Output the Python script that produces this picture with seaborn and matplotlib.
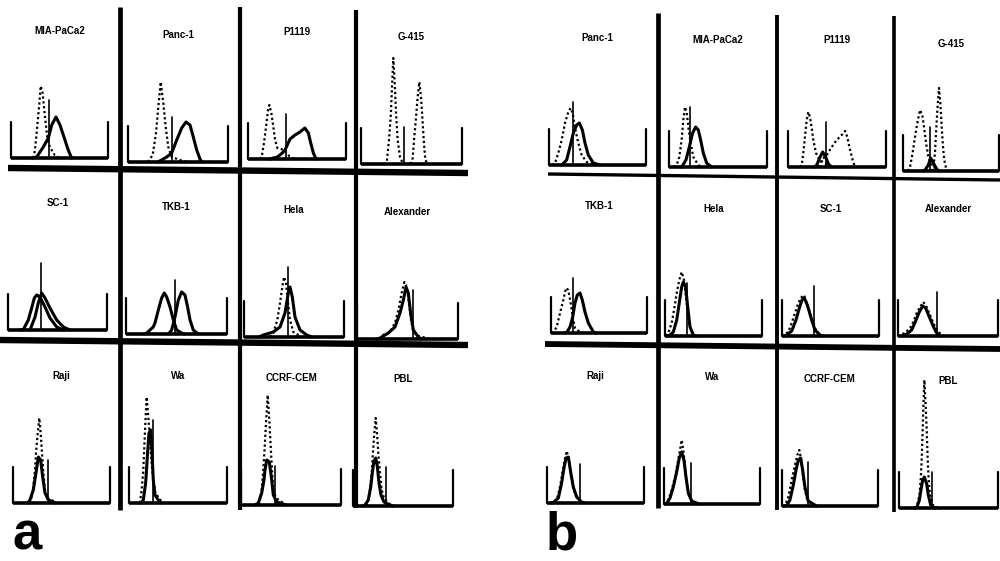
import matplotlib
matplotlib.use("Agg")
import matplotlib.pyplot as plt
import seaborn as sns

# ---- data: histogram curves as (channel, count) pairs ----
# panel a
A_MIA_DOT = [(23, 0), (24.7, 8), (27, 31), (28.9, 51), (30.6, 72), (32.6, 65), (34, 51), (35.7, 35),
             (37.4, 21), (40, 11), (45, 3), (50, 0)]
A_MIA_SOL = [(22, 0), (26.5, 1), (33.3, 11), (38.5, 20), (42, 33), (44.7, 38), (46.4, 41), (50.5, 33),
             (54.6, 21), (59, 8), (62.5, 0)]
A_PANC_DOT = [(20, 0), (24.7, 7), (28, 29), (30.3, 55), (32.7, 80), (35.3, 59), (37.7, 35), (40.3, 15),
              (43.7, 5), (52, 2), (58.7, 0)]
A_PANC_SOL = [(30, 0), (38.7, 5), (43.7, 9), (48.7, 22), (53.7, 34), (58, 40), (62, 37), (65.3, 25),
              (68.7, 12), (72, 3), (74, 0)]
A_P1119_DOT = [(12, 0), (14, 2), (16.3, 16), (18.4, 32), (20.4, 49), (21.8, 54), (23.8, 46), (25.9, 32),
               (27.6, 19), (30, 11), (34, 10), (37.8, 8), (42, 3), (47, 0)]
A_P1119_SOL = [(22, 0), (30, 2), (35, 6), (37.8, 9), (42.9, 20), (48, 24), (53, 27), (58, 31), (61.6, 26),
               (64, 16), (66.7, 6), (69.4, 0)]
A_G415_DOT1 = [(23, 0), (25.4, 1), (27.7, 24), (29.4, 47), (30.7, 77), (32, 106), (33.4, 81), (34.7, 51),
               (36.3, 24), (38.6, 7), (41.3, 1), (43, 0)]
A_G415_DOT2 = [(49, 0), (51, 4), (52.5, 24), (54.5, 47), (56.1, 67), (57.8, 82), (59.4, 67), (60.7, 47),
               (62.1, 24), (63.7, 4), (66, 0)]
A_SC1_SOL1 = [(12, 0), (15.5, 0.5), (20.5, 10), (23.9, 22), (26.6, 32), (29, 35), (32.3, 33), (37.4, 23),
              (42.4, 12), (49.2, 3), (55.9, 0)]
A_SC1_SOL2 = [(22.2, 0), (27.3, 13), (30.6, 27), (34, 37), (37.4, 32), (42.4, 22), (49.2, 10), (55.9, 3),
              (62.6, 0)]
A_TKB_SOL1 = [(18, 0), (20.5, 1), (27, 7), (28.7, 11), (32, 24), (35.3, 36), (37.9, 41), (40.3, 37),
              (43.6, 27), (46.9, 14), (50.2, 4), (55, 1), (58, 0)]
A_TKB_SOL2 = [(42, 0), (45.2, 4), (48.5, 17), (51.8, 34), (55.1, 42), (58.4, 39), (61, 27), (63.4, 14),
              (66.6, 4), (71.6, 0)]
A_HELA_DOT = [(26, 0), (29.3, 4), (33.3, 17), (36, 34), (38.3, 50), (40, 60), (42, 54), (43.7, 37),
              (46, 17), (49.3, 5), (54.3, 2), (58, 0)]
A_HELA_SOL = [(15, 0), (19.3, 2), (29.3, 5), (36, 10), (41, 24), (44.3, 44), (46, 50), (48.3, 40),
              (51, 20), (56, 7), (62.7, 2), (68, 0)]
A_ALEX_DOT = [(22, 0), (26, 4), (32.7, 7), (37.6, 16), (41, 29), (44.2, 46), (46.9, 57), (49.2, 52),
              (51.5, 36), (53.5, 19), (55.8, 7), (60.7, 3), (69, 1), (72, 0)]
A_ALEX_SOL = [(20, 0), (22.8, 1), (31, 6), (37.6, 12), (42.6, 26), (45.9, 39), (48.5, 52), (50.8, 46),
              (53.1, 26), (55.8, 9), (60.7, 2), (64, 0)]
A_RAJI_DOT = [(17, 0), (19.2, 6), (20.9, 16), (22.7, 33), (23.7, 50), (25.1, 66), (27.1, 85), (28.5, 70),
              (29.9, 50), (31.3, 30), (33, 13), (35.4, 5), (41.6, 2), (45, 0)]
A_RAJI_SOL = [(15, 0), (17.5, 3), (20.9, 13), (23.7, 30), (26.1, 46), (28.5, 43), (30.6, 26), (33, 10),
              (36.4, 3), (41.6, 1), (44, 0)]
A_WA_DOT = [(11, 0), (12.9, 13), (14.6, 33), (15.6, 56), (16.7, 80), (18, 106), (19.7, 86), (21.4, 63),
            (23.1, 40), (24.8, 23), (26.9, 10), (30.6, 5), (34, 0)]
A_WA_SOL = [(12, 0), (14.6, 3), (17, 20), (18.7, 46), (20.4, 70), (22.1, 73), (23.5, 50), (24.8, 23),
            (26.5, 8), (29.9, 3), (33, 0)]
A_CCRF_DOT = [(18, 0), (20.7, 15), (22.3, 35), (23.7, 58), (25, 82), (26.7, 110), (28.3, 85), (29.7, 58),
              (31, 35), (32.3, 15), (35, 7), (40.7, 3), (44, 0)]
A_CCRF_SOL = [(14, 0), (17.3, 2), (20.7, 12), (23, 25), (24, 35), (25.7, 45), (28.3, 43), (30.7, 25),
              (32.3, 10), (35.7, 3), (42.3, 1), (45, 0)]
A_PBL_DOT = [(14, 0), (17, 16), (18.7, 33), (19.7, 49), (21, 69), (22.7, 88), (24, 73), (25.3, 53),
             (27, 33), (28.7, 16), (31, 8), (35.3, 3), (39, 0)]
A_PBL_SOL = [(10, 0), (12, 1), (15.3, 6), (17.7, 19), (19.3, 33), (21, 45), (22.7, 48), (24.3, 40),
             (26, 23), (28, 11), (31, 4), (37, 1), (40, 0)]

# panel b
B_PANC_DOT = [(3, 0), (6.2, 2), (9.6, 12), (13.1, 25), (16.5, 42), (19.9, 53), (22.3, 57), (24.4, 52),
              (26.8, 37), (30.2, 22), (33.7, 10), (38.8, 3), (45.7, 1), (48, 0)]
B_PANC_SOL = [(13.1, 0), (18.2, 5), (21.6, 18), (25.1, 32), (28.5, 40), (31.3, 42), (34.4, 35), (37.1, 22),
              (40.5, 10), (45.7, 2), (52.6, 0)]
B_MIA_DOT = [(5, 0), (7.8, 2), (10.5, 10), (12.9, 27), (14.6, 47), (16.3, 60), (18, 55), (19.7, 40),
             (22.1, 24), (24.8, 10), (29.9, 2), (33, 0)]
B_MIA_SOL = [(12.9, 0), (17.3, 7), (20.7, 20), (24.1, 34), (27.2, 40), (29.9, 37), (32.3, 27), (35, 14),
             (38.4, 4), (43.5, 0)]
B_P1119_DOT1 = [(12, 0), (14, 2), (15.6, 14), (17.3, 30), (19.1, 47), (20.7, 55), (22.4, 50), (24.2, 39),
                (25.8, 27), (28.6, 14), (32, 7), (37.8, 4), (42.9, 1), (46, 0)]
B_P1119_DOT2 = [(31, 0), (34.4, 7), (39.5, 12), (44.6, 20), (49.7, 27), (54.8, 32), (58.2, 36), (60.5, 30),
                (63.3, 17), (66, 7), (68.4, 0)]
B_P1119_SOL = [(27, 0), (29.3, 2), (32.7, 10), (35.4, 15), (38.4, 10), (41.2, 3), (44.6, 0)]
B_G415_DOT1 = [(5, 0), (7.3, 4), (10, 18), (12.5, 34), (14.9, 48), (17.7, 61), (20.1, 56), (21.9, 44),
               (24, 28), (26.4, 14), (29.9, 5), (35.1, 2), (38, 0)]
B_G415_DOT2 = [(30, 0), (31.6, 3), (33.3, 18), (34.4, 38), (35.8, 61), (37.5, 83), (38.9, 68), (40.3, 44),
               (41.7, 24), (43, 11), (44.8, 3), (47, 0)]
B_G415_SOL = [(21, 0), (23, 1), (26.4, 6), (28.8, 13), (31.6, 8), (35.1, 2), (37, 0)]
B_TKB_DOT = [(1, 0), (2.4, 0.5), (5.9, 6), (9.4, 20), (12.8, 33), (15.6, 45), (18, 43), (20.5, 30),
             (22.6, 16), (25, 5), (30.2, 1), (33, 0)]
B_TKB_SOL = [(14, 0), (16.3, 0.5), (19.8, 6), (22.6, 16), (25, 30), (27.4, 38), (30.2, 40), (32.6, 33),
             (35.4, 21), (38.9, 10), (44.1, 1), (47, 0)]
B_HELA_DOT = [(1, 0), (3.4, 3), (6.9, 13), (9.3, 26), (12.1, 43), (14.7, 56), (17.2, 64), (19.6, 56),
              (21.6, 39), (23.4, 23), (25.8, 9), (29.2, 2), (32, 0)]
B_HELA_SOL = [(3, 0), (5.2, 1), (8.6, 4), (12.1, 16), (14.7, 33), (17.2, 49), (18.9, 54), (21.3, 49),
              (23.4, 29), (25.8, 9), (29.2, 1), (32, 0)]
B_SC1_DOT = [(0, 0), (1.4, 1), (6.5, 4), (10, 13), (13.4, 23), (16.8, 33), (20.3, 39), (22.7, 41),
             (25.5, 33), (28.9, 23), (32.3, 13), (35.8, 4), (40.9, 1), (44, 0)]
B_SC1_SOL = [(2, 0), (4.8, 1), (10, 5), (14.4, 16), (17.9, 28), (20.6, 36), (23, 38), (26.1, 31),
             (30.6, 16), (34, 6), (39.2, 1), (42, 0)]
B_ALEX_DOT = [(0, 0), (2, 1), (7, 3), (12, 8), (15.3, 14), (18.7, 23), (22, 29), (25.3, 34), (28.7, 29),
              (32, 21), (35.3, 13), (38.7, 6), (43.7, 1), (46, 0)]
B_ALEX_SOL = [(5, 0), (8.7, 2), (13.7, 6), (18, 16), (21.3, 24), (24.7, 30), (27.7, 28), (31.3, 19),
              (34.7, 11), (38, 4), (42, 0)]
B_RAJI_DOT = [(3, 0), (4.8, 0.5), (10, 3), (13.4, 16), (15.8, 30), (18.2, 43), (20.3, 52), (22.7, 43),
              (25.1, 26), (27.8, 13), (31.3, 5), (37.5, 1), (40, 0)]
B_RAJI_SOL = [(5, 0), (6.5, 0.5), (11.7, 5), (15.1, 20), (17.5, 35), (19.6, 45), (22, 46), (24.4, 31),
              (27.1, 16), (30.6, 6), (35.7, 1), (38, 0)]
B_WA_DOT = [(0, 0), (1, 0.5), (4.5, 4), (8, 14), (11.5, 27), (14.2, 41), (16.7, 54), (18.4, 64), (20.1, 54),
            (21.9, 37), (23.6, 21), (26.4, 7), (30.6, 2), (33, 0)]
B_WA_SOL = [(1, 0), (2.8, 0.5), (6.3, 6), (9.7, 17), (13.2, 32), (15.9, 46), (18.4, 52), (20.8, 44),
            (22.9, 27), (25.3, 11), (28.8, 3), (34, 1), (36, 0)]
B_CCRF_DOT = [(1, 0), (3.1, 0.5), (6.6, 9), (10.1, 26), (13.5, 41), (16, 51), (18, 56), (20.1, 46),
              (21.5, 33), (23.3, 19), (25.7, 8), (30.9, 2), (33, 0)]
B_CCRF_SOL = [(3, 0), (4.9, 0.5), (8.3, 6), (11.8, 21), (14.6, 36), (17, 46), (19.4, 48), (21.5, 36),
              (23.9, 19), (27.3, 5), (34.2, 1), (36, 0)]
B_PBL_DOT = [(16, 0), (18, 1), (20.6, 13), (21.9, 28), (22.9, 48), (23.9, 78), (24.6, 101), (25.6, 128),
             (27, 101), (28, 78), (29, 48), (30, 28), (31.3, 13), (34, 3), (38, 1), (40, 0)]
B_PBL_SOL = [(16, 0), (18, 0.5), (20.6, 8), (22.2, 18), (23.9, 28), (25.6, 31), (28, 24), (29.6, 13),
             (32, 3), (36.4, 0)]

TITLES_A = ["MIA-PaCa2", "Panc-1", "P1119", "G-415", "SC-1", "TKB-1", "Hela", "Alexander",
            "Raji", "Wa", "CCRF-CEM", "PBL"]
TITLES_B = ["Panc-1", "MIA-PaCa2", "P1119", "G-415", "TKB-1", "Hela", "SC-1", "Alexander",
            "Raji", "Wa", "CCRF-CEM", "PBL"]

# gate marker (channel, height) per histogram
MARKERS_A = [(39, 58), (43.7, 45), (38.8, 45), (42.9, 37), (33.3, 67), (48.5, 54), (44, 70), (55.4, 49),
             (36, 43), (24.5, 83), (34, 39), (33, 39)]
MARKERS_B = [(24.7, 63), (21.4, 60), (38.8, 45), (28, 44), (22.9, 55), (22.3, 53), (33, 50), (39, 44),
             (34, 39), (28, 41), (27, 44), (33.3, 36)]

CURVES_A = [
    [(A_MIA_SOL, "solid"), (A_MIA_DOT, "dot")],
    [(A_PANC_SOL, "solid"), (A_PANC_DOT, "dot")],
    [(A_P1119_SOL, "solid"), (A_P1119_DOT, "dot")],
    [(A_G415_DOT1, "dot"), (A_G415_DOT2, "dot")],
    [(A_SC1_SOL1, "solid"), (A_SC1_SOL2, "solid")],
    [(A_TKB_SOL1, "solid"), (A_TKB_SOL2, "solid")],
    [(A_HELA_SOL, "solid"), (A_HELA_DOT, "dot")],
    [(A_ALEX_SOL, "solid"), (A_ALEX_DOT, "dot")],
    [(A_RAJI_SOL, "solid"), (A_RAJI_DOT, "dot")],
    [(A_WA_SOL, "solid"), (A_WA_DOT, "dot")],
    [(A_CCRF_SOL, "solid"), (A_CCRF_DOT, "dot")],
    [(A_PBL_SOL, "solid"), (A_PBL_DOT, "dot")],
]
CURVES_B = [
    [(B_PANC_SOL, "solid"), (B_PANC_DOT, "dot")],
    [(B_MIA_SOL, "solid"), (B_MIA_DOT, "dot")],
    [(B_P1119_SOL, "solid"), (B_P1119_DOT1, "dot"), (B_P1119_DOT2, "dot")],
    [(B_G415_SOL, "solid"), (B_G415_DOT1, "dot"), (B_G415_DOT2, "dot")],
    [(B_TKB_SOL, "solid"), (B_TKB_DOT, "dot")],
    [(B_HELA_SOL, "solid"), (B_HELA_DOT, "dot")],
    [(B_SC1_SOL, "solid"), (B_SC1_DOT, "dot")],
    [(B_ALEX_SOL, "solid"), (B_ALEX_DOT, "dot")],
    [(B_RAJI_SOL, "solid"), (B_RAJI_DOT, "dot")],
    [(B_WA_SOL, "solid"), (B_WA_DOT, "dot")],
    [(B_CCRF_SOL, "solid"), (B_CCRF_DOT, "dot")],
    [(B_PBL_SOL, "solid"), (B_PBL_DOT, "dot")],
]

# ---- layout (pixels): left tick x, right tick x, baseline y for each histogram ----
W, H = 1000, 561
BOXES_A = [(11, 108, 158), (128, 228, 162), (248, 346, 159), (361, 462, 164),
           (8, 107, 330), (126, 227, 334), (244, 344, 337), (357, 458, 339),
           (13, 110, 503), (129, 227, 503), (241, 341, 505), (353, 453, 506)]
BOXES_B = [(549, 646, 165), (669, 767, 167), (788, 886, 167), (903, 999, 171),
           (551, 647, 333), (665, 762, 336), (782, 879, 336), (898, 998, 336),
           (547, 644, 503), (664, 760, 504), (782, 878, 506), (899, 998, 508)]
TICK_H = 36
TITLE_H = 127

STYLES = {
    "solid": dict(lw=2.2, linestyle="-"),
    "dot": dict(lw=1.6, linestyle=(0, (1, 1.2))),
}

sns.set_style("white")
plt.rcParams['font.family'] = ['Liberation Sans', 'DejaVu Sans']
plt.rcParams['text.color'] = 'black'

fig = plt.figure(figsize=(W / 100, H / 100), dpi=100)


def draw_cell(box, title, curves, marker):
    left, right, base = box
    pad, top, bot = 6, 140, 8
    span = right - left
    ax = fig.add_axes([(left - pad) / W, 1 - (base + bot) / H,
                       (span + 2 * pad) / W, (top + bot) / H])
    ax.set_xlim(-pad / span * 100, 100 + pad / span * 100)
    ax.set_ylim(-bot, top)
    ax.axis('off')

    ax.plot([0, 100], [0, 0], color='black', lw=2.6, solid_capstyle='butt')
    for xe in (0, 100):
        ax.plot([xe, xe], [0, TICK_H], color='black', lw=1.6)
    ax.plot([marker[0], marker[0]], [0, marker[1]], color='black', lw=1.2)

    for pts, kind in curves:
        xs = [p[0] for p in pts]
        ys = [p[1] for p in pts]
        sns.lineplot(x=xs, y=ys, ax=ax, color='black', estimator=None, **STYLES[kind])

    ax.text(50, TITLE_H, title, ha='center', va='center', fontsize=7, fontweight='bold',
            color='black')


for i in range(12):
    draw_cell(BOXES_A[i], TITLES_A[i], CURVES_A[i], MARKERS_A[i])
    draw_cell(BOXES_B[i], TITLES_B[i], CURVES_B[i], MARKERS_B[i])

# frame lines between the histograms, in pixel space
over = fig.add_axes([0, 0, 1, 1])
over.set_xlim(0, W)
over.set_ylim(H, 0)
over.axis('off')
SEP_LINES = [
    ((120, 120), (7, 510), 3.4), ((240, 240), (7, 510), 3.0), ((356, 356), (10, 508), 3.0),
    ((8, 468), (168, 173), 4.6), ((0, 468), (340, 345), 4.6),
    ((658, 658), (13, 508), 3.4), ((777, 777), (15, 510), 2.8), ((894, 894), (16, 512), 2.6),
    ((548, 1000), (174, 180), 2.4), ((545, 1000), (344, 349), 4.2),
]
for xs, ys, lw in SEP_LINES:
    over.plot(xs, ys, color='black', lw=lw, solid_capstyle='butt')

fig.text(13 / W, 1 - 560 / H, 'a', fontsize=38, fontweight='bold', va='bottom', ha='left',
         color='black')
fig.text(546 / W, 1 - 560 / H, 'b', fontsize=38, fontweight='bold', va='bottom', ha='left',
         color='black')

fig.savefig('out.png', dpi=100, facecolor='white')
